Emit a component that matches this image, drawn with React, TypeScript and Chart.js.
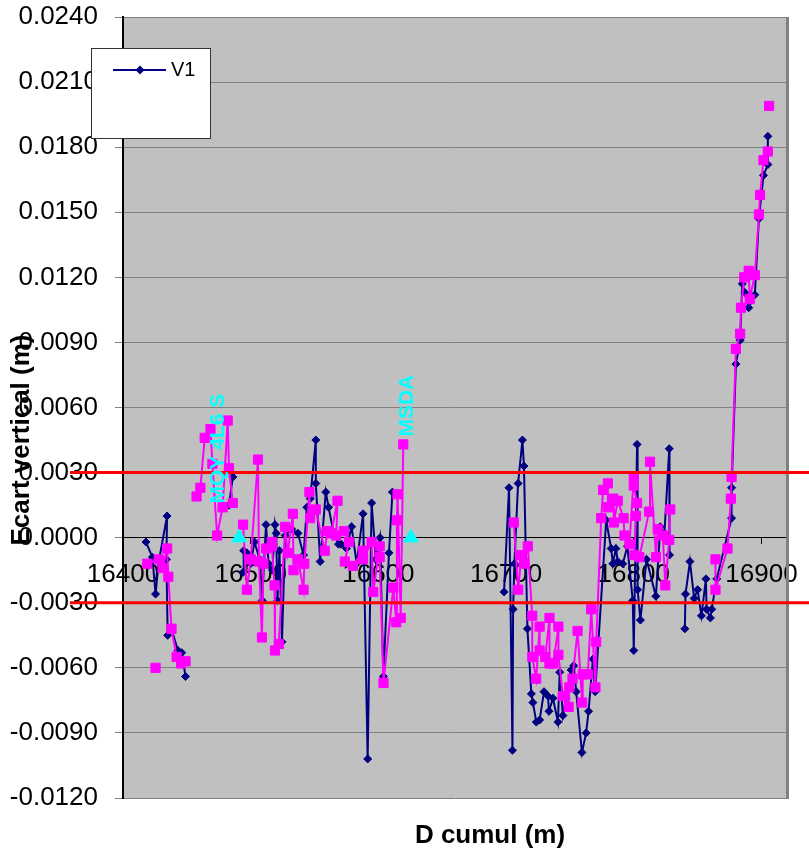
import React, { useEffect, useRef } from "react";
import { Chart, registerables } from "chart.js";
Chart.register(...registerables);

const FONT = "Arial, 'Liberation Sans', sans-serif";

// Series V1 (navy diamonds) – distance (m) and vertical gap (m); null = gap in the line
const v1Dist = [
  16418, 16423, 16425.5, 16428, 16434.5, 16434, 16435, 16438, 16443, 16446, 16449,
  16460,
  16483, 16486,
  16490,
  16494, 16494.5, 16497, 16500, 16503, 16507, 16509, 16512, 16514, 16517, 16519, 16520, 16521, 16522.5, 16524.5,
  16527, 16532, 16537, 16541.4, 16544, 16546.6, 16551, 16551, 16554.4, 16558.8, 16561, 16565, 16568.8, 16571,
  16575, 16579, 16583, 16588, 16591.6, 16594.7, 16598, 16601.3, 16603.9, 16608.3, 16611,
  16650,
  16698.4, 16702.3, 16705, 16705.5, 16706.5, 16709.4, 16712.8, 16714, 16716.7, 16719.8, 16721, 16723.7, 16726.3,
  16729.7, 16732.8, 16733.6, 16736.7, 16740.6, 16742, 16744.5, 16747, 16751, 16753, 16754.9, 16759.4, 16762.7,
  16764.6, 16768, 16769.8, 16778.4, 16782.3, 16783.6, 16786, 16787.5, 16791.4, 16795, 16799.2, 16800, 16802.6,
  16803, 16805.2, 16810, 16817.3, 16820.8, 16824, 16827.8, 16828,
  16834,
  16840, 16840.5, 16844, 16847.3, 16850, 16853, 16856.5, 16857, 16860, 16861, 16865,
  16876.6, 16876.6, 16880, 16883.3, 16885, 16887, 16890, 16894.8, 16898, 16901.6, 16905, 16905,
];
const v1Ecart = [
  -0.0002, -0.0009, -0.0026, -0.0011, 0.001, -0.001, -0.0045, -0.0042, -0.0052, -0.0053, -0.0064,
  null,
  0.0015, 0.0028,
  null,
  -0.0016, -0.0006, -0.0007, -0.0012, -0.0002, -0.001, -0.0029, 0.0006, -0.0012, -0.0015, 0.0006, 0.0002, -0.0029, -0.0006, -0.0048,
  0.0001, 0.0004, 0.0002, -0.0008, 0.0014, 0.0018, 0.0045, 0.0025, -0.0011, 0.0021, 0.0014, 0.0002, -0.0003, -0.0003,
  -0.0005, 0.0005, -0.0012, 0.0011, -0.0102, 0.0016, -0.001, 0.0, -0.0064, -0.0007, 0.0021,
  null,
  -0.0025, 0.0023, -0.0098, -0.0033, -0.0012, 0.0025, 0.0045, 0.0033, -0.0042, -0.0072, -0.0076, -0.0085, -0.0084,
  -0.0071, -0.0073, -0.008, -0.0074, -0.0085, -0.0062, -0.0082, -0.0074, -0.0061, -0.0059, -0.0071, -0.0099, -0.009,
  -0.008, -0.0056, -0.0071, 0.0008, -0.0005, -0.0012, -0.0005, -0.0011, -0.0012, -0.0004, -0.0029, -0.0052, 0.0043,
  -0.0024, -0.0038, -0.001, -0.0027, 0.0005, 0.0002, 0.0041, -0.0008,
  null,
  -0.0042, -0.0026, -0.0011, -0.0028, -0.0024, -0.0036, -0.0019, -0.0033, -0.0037, -0.0033, -0.0019,
  0.0009, 0.0023, 0.008, 0.0091, 0.0117, 0.0113, 0.0106, 0.0112, 0.0147, 0.0167, 0.0172, 0.0185,
];

// Second series (magenta squares)
const v2Dist = [
  16425.5,
  16426,
  16419, 16428, 16431, 16434.6, 16435.5, 16438, 16442, 16445.5, 16449,
  16452,
  16457.6, 16460.6, 16464, 16468.5, 16470, 16473.7, 16478, 16482, 16483, 16486,
  16490,
  16494, 16497, 16500, 16505.7, 16506.5, 16508.8, 16510, 16512, 16516.6, 16516.6, 16518.7, 16519, 16522,
  16527, 16529, 16533, 16533.5, 16537, 16541.4, 16542, 16546, 16546.6, 16551, 16558, 16560, 16563, 16568,
  16567, 16573, 16577, 16573.7, 16580, 16588, 16588, 16594.7, 16596, 16601, 16601, 16604, 16611.7, 16614,
  16614.5, 16615, 16617.5, 16619.5,
  16660,
  16706, 16709.5, 16712, 16714, 16717, 16720.5, 16720.5, 16723.6, 16726.3, 16726.3, 16730.7, 16734, 16734,
  16737, 16741, 16741, 16744.5, 16749, 16749.5, 16752, 16756, 16759.6, 16760, 16764, 16766.7, 16770, 16770.6,
  16774.5, 16776, 16779.7, 16779.7, 16784, 16784.4, 16787.5, 16792, 16792.7, 16796.6, 16800, 16800, 16802.6,
  16801.8, 16800.5, 16804.4, 16812, 16812.7, 16817.4, 16818.75, 16822.7, 16824.7, 16827.8, 16828.6,
  16845,
  16864, 16864, 16873.4, 16876, 16876.6, 16880, 16883.3, 16884, 16886.5, 16890, 16890.8, 16894.8, 16898,
  16898.9, 16901.6, 16905,
  16906,
  16906,
];
const v2Ecart = [
  -0.006,
  null,
  -0.0012, -0.001, -0.0014, -0.0005, -0.0018, -0.0042, -0.0055, -0.0058, -0.0057,
  null,
  0.0019, 0.0023, 0.0046, 0.005, 0.0034, 0.0001, 0.0014, 0.0054, 0.0032, 0.0016,
  null,
  0.0006, -0.0024, -0.001, 0.0036, -0.0011, -0.0046, -0.0012, -0.0005, -0.0002, -0.0004, -0.0022, -0.0052, -0.0049,
  0.0005, -0.0007, 0.0011, -0.0015, -0.001, -0.0024, -0.0012, 0.0021, 0.0009, 0.0013, -0.0006, 0.0003, 0.0002, 0.0017,
  0.0001, 0.0003, -0.0002, -0.0011, -0.0013, -0.0006, -0.001, -0.0002, -0.0025, -0.0004, -0.0009, -0.0067, -0.0023, -0.0039,
  0.0008, 0.002, -0.0037, 0.0043,
  null,
  0.0007, -0.0024, -0.0008, -0.0012, -0.0004, -0.0036, -0.0055, -0.0065, -0.0041, -0.0052, -0.0055, -0.0037, -0.0058,
  -0.0058, -0.0041, -0.0054, -0.0073, -0.0078, -0.0069, -0.0065, -0.0043, -0.0076, -0.0063, -0.0063, -0.0033, -0.0069, -0.0048,
  0.0009, 0.0022, 0.0025, 0.0014, 0.0018, 0.0007, 0.0017, 0.0009, 0.0001, -0.0003, 0.0028, 0.0024, 0.0016,
  0.001, -0.0008, -0.0009, 0.0012, 0.0035, -0.0009, 0.0004, 0.0001, -0.0022, -0.0001, 0.0013,
  null,
  -0.001, -0.0024, -0.0005, 0.0018, 0.0028, 0.0087, 0.0094, 0.0106, 0.012, 0.0123, 0.011, 0.0121, 0.0149,
  0.0158, 0.0174, 0.0178,
  null,
  0.0199,
];

// Named sites (cyan triangles)
const siteDist = [16491, 16625.5];
const siteEcart = [0, 0];
const siteNames = ["MQY 4L6 S", "MSDA"];

// Tolerance limits (red lines)
const limits = [0.003, -0.003];

const xMin = 16400;
const xMax = 16920;
const xStep = 100;
const yMin = -0.012;
const yMax = 0.024;
const yStep = 0.003;

const legendLabel = "V1";
const xTitle = "D cumul (m)";
const yTitle = "Ecart vertical (m)";

function pts(xs: number[], ys: (number | null)[]) {
  return xs.map((x, i) => ({ x, y: ys[i] }));
}

const decor = {
  id: "decor",
  beforeDraw(chart: any) {
    const { ctx, chartArea: a, width, height } = chart;
    ctx.save();
    ctx.fillStyle = "#ffffff";
    ctx.fillRect(0, 0, width, height);
    ctx.fillStyle = "#C0C0C0";
    ctx.fillRect(a.left, a.top, a.right - a.left, a.bottom - a.top);
    ctx.restore();
  },
  afterDraw(chart: any) {
    const { ctx, chartArea: a, width, scales } = chart;
    const xs = scales.x;
    const ys = scales.y;
    ctx.save();
    // right border of plot
    ctx.strokeStyle = "#808080";
    ctx.lineWidth = 3;
    ctx.beginPath();
    ctx.moveTo(a.right + 0.5, a.top);
    ctx.lineTo(a.right + 0.5, a.bottom + 1);
    ctx.stroke();

    // red tolerance lines
    ctx.strokeStyle = "#FF0000";
    ctx.lineWidth = 3;
    limits.forEach((v) => {
      const py = ys.getPixelForValue(v);
      ctx.beginPath();
      ctx.moveTo(a.left - 53, py);
      ctx.lineTo(width, py);
      ctx.stroke();
    });

    // cyan site labels
    const offs = [
      [-21, -89],
      [-4, -132],
    ];
    ctx.fillStyle = "#00FFFF";
    ctx.font = `bold 21px ${FONT}`;
    ctx.textAlign = "center";
    ctx.textBaseline = "middle";
    siteNames.forEach((name, i) => {
      const px = xs.getPixelForValue(siteDist[i]) + offs[i][0];
      const py = ys.getPixelForValue(siteEcart[i]) + offs[i][1];
      ctx.save();
      ctx.translate(px, py);
      ctx.rotate(-Math.PI / 2);
      ctx.fillText(name, 0, 0);
      ctx.restore();
    });

    // axis titles
    ctx.fillStyle = "#000";
    ctx.font = `bold 26px ${FONT}`;
    ctx.textAlign = "center";
    ctx.textBaseline = "middle";
    ctx.fillText(xTitle, (a.left + a.right) / 2 + 35, a.bottom + 38);
    ctx.save();
    ctx.translate(22, 440);
    ctx.rotate(-Math.PI / 2);
    ctx.fillText(yTitle, 0, 0);
    ctx.restore();

    // legend box
    const lx = a.left - 32;
    const ly = a.top + 31;
    ctx.fillStyle = "#fff";
    ctx.fillRect(lx, ly, 119, 90);
    ctx.strokeStyle = "#333";
    ctx.lineWidth = 1;
    ctx.strokeRect(lx + 0.5, ly + 0.5, 119, 90);
    ctx.strokeStyle = "#000080";
    ctx.lineWidth = 2;
    ctx.beginPath();
    ctx.moveTo(lx + 22, ly + 22);
    ctx.lineTo(lx + 75, ly + 22);
    ctx.stroke();
    ctx.fillStyle = "#000080";
    ctx.beginPath();
    const cx = lx + 49;
    const cy = ly + 22;
    ctx.moveTo(cx, cy - 4.5);
    ctx.lineTo(cx + 4.5, cy);
    ctx.lineTo(cx, cy + 4.5);
    ctx.lineTo(cx - 4.5, cy);
    ctx.closePath();
    ctx.fill();
    ctx.fillStyle = "#000";
    ctx.font = `20px ${FONT}`;
    ctx.textAlign = "left";
    ctx.fillText(legendLabel, lx + 80, ly + 22);
    ctx.restore();
  },
};

export default function App() {
  const ref = useRef<HTMLCanvasElement | null>(null);
  useEffect(() => {
    document.body.style.margin = "0";
    const canvas = ref.current!;
    const chart = new Chart(canvas, {
      type: "scatter",
      data: {
        datasets: [
          {
            label: legendLabel,
            data: pts(v1Dist, v1Ecart) as any,
            showLine: true,
            borderColor: "#000080",
            backgroundColor: "#000080",
            borderWidth: 2,
            pointStyle: "rectRot",
            pointRadius: 4,
            pointBorderWidth: 1,
            order: 2,
          },
          {
            label: "V2",
            data: pts(v2Dist, v2Ecart) as any,
            showLine: true,
            borderColor: "#FF00FF",
            backgroundColor: "#FF00FF",
            borderWidth: 2,
            pointStyle: "rect",
            pointRadius: 6.5,
            pointBorderWidth: 1,
            order: 1,
          },
          {
            label: "Sites",
            data: pts(siteDist, siteEcart) as any,
            showLine: false,
            borderColor: "#00FFFF",
            backgroundColor: "#00FFFF",
            pointStyle: "triangle",
            pointRadius: 8.5,
            pointBorderWidth: 1,
            order: 0,
          },
        ],
      },
      options: {
        responsive: false,
        animation: false,
        devicePixelRatio: 1,
        spanGaps: false,
        layout: { padding: { left: 0, top: 17, right: 22, bottom: 54 } },
        plugins: {
          legend: { display: false },
          tooltip: { enabled: false },
        },
        scales: {
          x: {
            type: "linear",
            position: { y: 0 } as any,
            min: xMin,
            max: xMax,
            afterFit: (s: any) => {
              s.paddingLeft = 0;
              s.paddingRight = 0;
            },
            ticks: {
              stepSize: xStep,
              includeBounds: false,
              color: "#000",
              font: { family: FONT, size: 26 },
              padding: 16,
              maxRotation: 0,
              autoSkip: false,
              callback: (v: any) => String(v),
            },
            grid: { drawOnChartArea: false, drawTicks: true, tickLength: 6, tickColor: "#000" },
            border: { display: true, color: "#000", width: 1 },
          },
          y: {
            type: "linear",
            position: "left",
            min: yMin,
            max: yMax,
            afterFit: (s: any) => {
              s.width = 123;
              s.paddingTop = 0;
              s.paddingBottom = 0;
            },
            ticks: {
              stepSize: yStep,
              color: "#000",
              font: { family: FONT, size: 26 },
              padding: 17,
              callback: (v: any) => Number(v).toFixed(4),
            },
            grid: {
              color: (c: any) => (c.tick && Math.abs(c.tick.value) < 1e-9 ? "#000" : "#808080"),
              tickColor: "#808080",
              tickLength: 8,
              lineWidth: 1,
            },
            border: { display: true, color: "#000", width: 2 },
          },
        },
      },
      plugins: [decor],
    });
    return () => chart.destroy();
  }, []);
  return (
    <div style={{ position: "absolute", left: 0, top: 0, width: 809, height: 852 }}>
      <canvas ref={ref} width={809} height={852} />
    </div>
  );
}
